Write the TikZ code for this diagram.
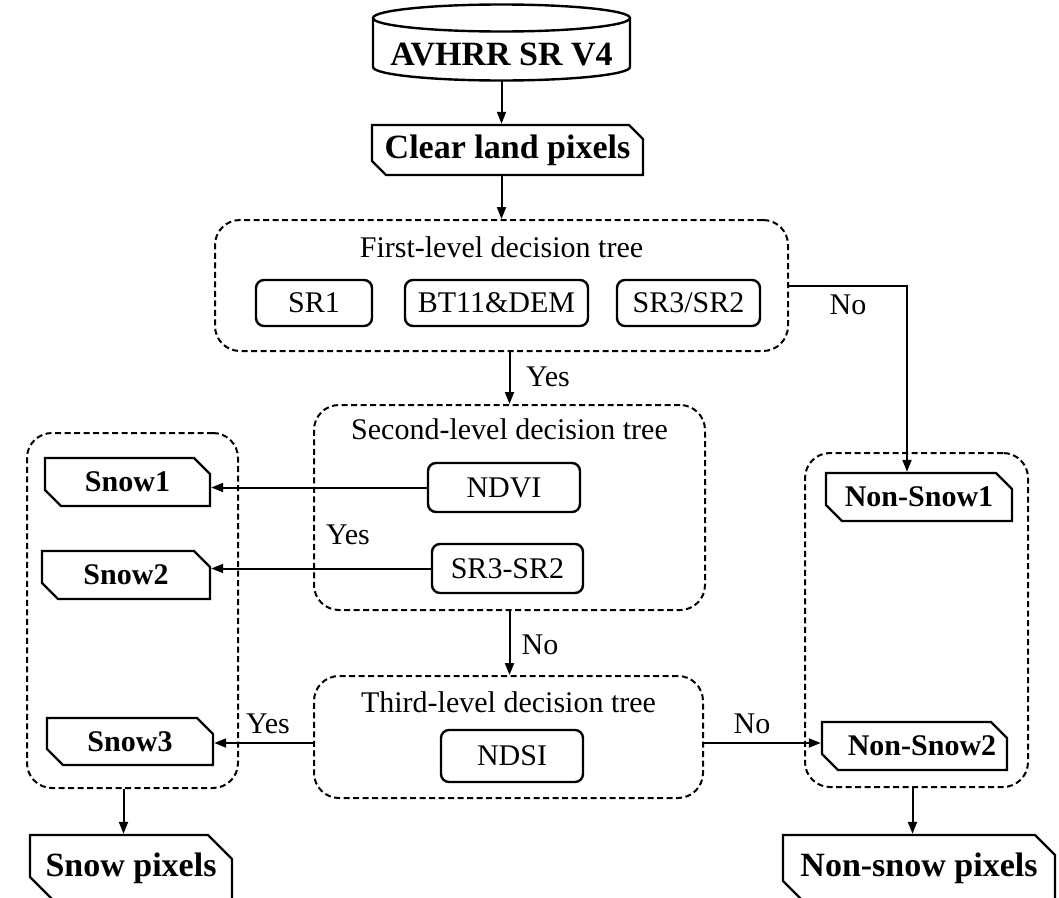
\documentclass[tikz,border=0pt]{standalone}
\usepackage{fontspec}
\setmainfont{Liberation Serif}
\usetikzlibrary{arrows.meta,shapes.misc}
\begin{document}
\begin{tikzpicture}[x=1pt,y=-1pt,
  arr/.style={line width=2pt,-{Triangle[length=12pt,width=9pt]}},
  grp/.style={draw,line width=2pt,dash pattern=on 6pt off 3.5pt,rounded corners=25pt,inner sep=0pt},
  dec/.style={draw,line width=2.4pt,rounded corners=8pt,inner sep=0pt,font=\fontsize{30}{36}\selectfont},
  cham/.style={draw,line width=2.4pt,chamfered rectangle,chamfered rectangle corners={north east,south west},chamfered rectangle xsep=8pt,chamfered rectangle ysep=8pt,inner sep=0pt},
  small/.style={cham,font=\bfseries\fontsize{30}{36}\selectfont},
  big/.style={cham,font=\bfseries\fontsize{34}{40}\selectfont},
  txt/.style={inner sep=0pt,font=\fontsize{30}{36}\selectfont},
]
\useasboundingbox (0,0) rectangle (1059,897);

% cylinder
\draw[line width=2.4pt] (501.5,18) ellipse [x radius=128.5, y radius=13.5];
\draw[line width=2.4pt] (373,18) -- (373,67) arc[start angle=180, end angle=0, x radius=128.5, y radius=13.5] -- (630,18);
\node[minimum width=257pt,minimum height=75pt,inner sep=0pt] (db) at (501.5,42.5) {};
\node[inner sep=0pt,font=\bfseries\fontsize{34}{40}\selectfont] (dbt) at (501.5,54) {AVHRR SR V4};

\node[big,minimum width=271pt,minimum height=50pt,chamfered rectangle xsep=7pt,chamfered rectangle ysep=7pt] (clear) at (507.5,150) {Clear land pixels};

% first level
\node[grp,minimum width=573pt,minimum height=131pt] (fl) at (501.5,285.5) {};
\node[txt] (flt) at (501.5,247) {First-level decision tree};
\node[dec,minimum width=116pt,minimum height=46pt] (sr1) at (314,303) {SR1};
\node[dec,minimum width=183pt,minimum height=46pt] (bt) at (496.5,303) {BT11\&DEM};
\node[dec,minimum width=143pt,minimum height=46pt] (sr32) at (688.5,303) {SR3/SR2};

% second level
\node[grp,minimum width=391pt,minimum height=205pt] (sl) at (509.5,507.5) {};
\node[txt] (slt) at (509.5,429) {Second-level decision tree};
\node[dec,minimum width=152pt,minimum height=49pt] (ndvi) at (504,487.5) {NDVI};
\node[dec,minimum width=151pt,minimum height=49pt] (srd) at (507.5,568.5) {SR3-SR2};

% third level
\node[grp,minimum width=389pt,minimum height=122pt] (tl) at (508.5,737) {};
\node[txt] (tlt) at (508.5,702) {Third-level decision tree};
\node[dec,minimum width=142pt,minimum height=52pt] (ndsi) at (512,756) {NDSI};

% left group
\node[grp,minimum width=211pt,minimum height=355pt] (lg) at (132.5,610.5) {};
\node[small,minimum width=165pt,minimum height=48pt] (s1) at (127.5,482) {Snow1\hspace{26pt}};
\node[small,minimum width=168pt,minimum height=48pt] (s2) at (126,575) {Snow2\hspace{27pt}};
\node[small,minimum width=166pt,minimum height=47pt] (s3) at (130,741.5) {Snow3\hspace{17pt}};

% right group
\node[grp,minimum width=223pt,minimum height=334pt] (rg) at (916.5,620) {};
\node[small,minimum width=186pt,minimum height=48pt] (ns1) at (919,497) {Non-Snow1\hspace{10pt}};
\node[small,minimum width=185pt,minimum height=48pt] (ns2) at (914.5,746) {\hspace{15pt}Non-Snow2};

% outputs
\node[big,minimum width=202pt,minimum height=66pt,chamfered rectangle xsep=12pt,chamfered rectangle ysep=12pt] (sp) at (131,868) {Snow pixels};
\node[big,minimum width=272pt,minimum height=66pt,chamfered rectangle xsep=10pt,chamfered rectangle ysep=10pt] (np) at (919,868) {Non-snow pixels};

% labels
\node[txt] (yes1) at (548,377) {Yes};
\node[txt] (yes2) at (348,535) {Yes};
\node[txt] (no1) at (848,305) {No};
\node[txt] (no2) at (540,645) {No};
\node[txt] (yes3) at (268,724) {Yes};
\node[txt] (no3) at (752,724) {No};

% connectors
\draw[arr] (db.south) -- (db.south |- clear.north);
\draw[arr] (db.south |- clear.south) -- (db.south |- fl.north);
\coordinate (bend) at (907,285.5);
\draw[arr] (fl.east) -- (bend) -- (bend |- ns1.north);
\draw[arr] (sl.north |- fl.south) -- (sl.north);
\draw[arr] (ndvi.west) -- (ndvi.west -| s1.east);
\draw[arr] (srd.west) -- (srd.west -| s2.east);
\draw[arr] (sl.south) -- (sl.south |- tl.north);
\draw[arr] ([yshift=-6pt]tl.west) -- ([yshift=-6pt]tl.west -| s3.east);
\draw[arr] ([yshift=-6pt]tl.east) -- ([yshift=-6pt]tl.east -| ns2.west);
\draw[arr] ([xshift=-9pt]lg.south) -- ([xshift=-9pt]lg.south |- sp.north);
\draw[arr] ([xshift=-4pt]rg.south) -- ([xshift=-4pt]rg.south |- np.north);
\end{tikzpicture}
\end{document}
